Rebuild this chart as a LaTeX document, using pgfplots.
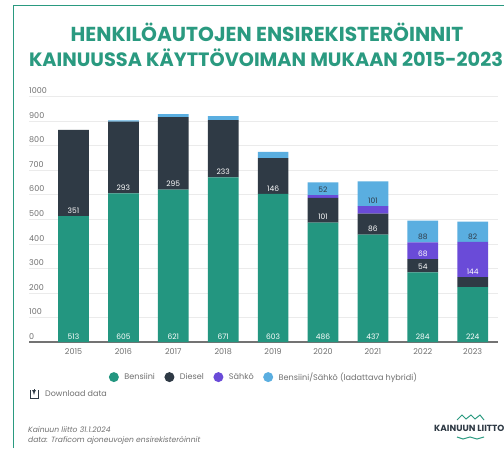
\documentclass[border=0pt]{standalone}
\usepackage{fontspec}
\setmainfont{Poppins}
\usepackage{pgfplots}
\usepackage{pgfplotstable}
\pgfplotsset{compat=1.18}
\definecolor{cgreen}{HTML}{239680}
\definecolor{cdark}{HTML}{2F3A45}
\definecolor{cpurple}{HTML}{6A4BD8}
\definecolor{cblue}{HTML}{5AAEE0}
\definecolor{ctitle}{HTML}{2A9A80}
\definecolor{cgrey}{HTML}{707070}
\pgfplotstableread{
x base lab
0 0 513
1 0 605
2 0 621
3 0 671
4 0 603
5 0 486
6 0 437
7 0 284
8 0 224
0 513 351
1 605 293
2 621 295
3 671 233
4 603 146
5 486 101
6 437 86
7 284 54
7 338 68
8 264 144
}\whitelabels
\pgfplotstableread{
x base lab
5 598 52
6 553 101
7 406 88
8 408 82
}\darklabels
\begin{document}
\begin{tikzpicture}[x=1pt,y=1pt]
\clip (0,0) rectangle (504,448);
\fill[white] (0,0) rectangle (504,448);
\draw[ctitle,line width=1pt] (13.5,0) -- (13.5,442) -- (504,442);
\node[font=\bfseries\fontsize{20.2}{22}\selectfont,text=ctitle] at (267,416) {HENKILÖAUTOJEN ENSIREKISTERÖINNIT};
\node[font=\bfseries\fontsize{19.3}{21}\selectfont,text=ctitle] at (266,390.5) {KAINUUSSA KÄYTTÖVOIMAN MUKAAN 2015-2023};
\begin{axis}[
  at={(29pt,106pt)},anchor=south west,
  width=469pt,height=245.5pt,scale only axis,
  ybar stacked,bar width=30.7pt,
  xmin=-0.892,xmax=8.507,ymin=0,ymax=1000,
  xtick={0,...,8},
  xticklabels={2015,2016,2017,2018,2019,2020,2021,2022,2023},
  ytick={0,100,...,1000},
  /pgf/number format/assume math mode=true,
  /pgf/number format/set thousands separator={},
  ymajorgrids,grid style={color=black!8,line width=0.6pt},
  axis line style={draw=none},
  major tick length=0pt,
  tick label style={font=\fontsize{8}{9}\selectfont,text=cgrey},
  y tick label style={anchor=south west,inner sep=0pt,xshift=0pt,yshift=2.5pt},
  x tick label style={yshift=-3pt},
  legend style={at={(0.501,-0.143)},anchor=center,draw=none,fill=none,font=\fontsize{8.1}{10}\selectfont,text=cgrey,legend columns=-1,
    /tikz/every even column/.append style={column sep=7.5pt}},
  legend image code/.code={\fill[#1] (0pt,0pt) circle (5pt);\path (8.5pt,0pt);},
]
\addplot[fill=cgreen,draw=none] coordinates {(0,513)(1,605)(2,621)(3,671)(4,603)(5,486)(6,437)(7,284)(8,224)};
\addplot[fill=cdark,draw=none] coordinates {(0,351)(1,293)(2,295)(3,233)(4,146)(5,101)(6,86)(7,54)(8,40)};
\addplot[fill=cpurple,draw=none] coordinates {(0,0)(1,0)(2,0)(3,0)(4,0)(5,11)(6,30)(7,68)(8,144)};
\addplot[fill=cblue,draw=none] coordinates {(0,0)(1,5)(2,12)(3,16)(4,25)(5,52)(6,101)(7,88)(8,82)};
\legend{Bensiini,Diesel,Sähkö,Bensiini/Sähkö (ladattava hybridi)}
\draw[color=black!55,line width=1.2pt] (axis cs:-0.892,0) -- (axis cs:8.507,0);
\end{axis}
\begin{axis}[
  at={(29pt,106pt)},anchor=south west,
  width=469pt,height=245.5pt,scale only axis,
  xmin=-0.892,xmax=8.507,ymin=0,ymax=1000,
  hide axis,clip=false,
  nodes near coords,
  point meta=explicit symbolic,
  every node near coord/.append style={font=\fontsize{7.5}{8}\selectfont,anchor=center,inner sep=0pt,yshift=5.5pt},
]
\addplot[only marks,mark=none,draw=none,nodes near coords style={text=white}] table[x=x,y=base,meta=lab] {\whitelabels};
\addplot[only marks,mark=none,draw=none,nodes near coords style={text=cdark}] table[x=x,y=base,meta=lab] {\darklabels};
\end{axis}
% download icon
\draw[cdark,line width=0.7pt] (30,58) -- (30,50) -- (38,50) -- (38,58);
\draw[cdark,line width=0.7pt,-{latex}] (34,59) -- (34,53);
\node[anchor=west,font=\fontsize{8}{9}\selectfont,text=cgrey,inner sep=0pt] at (45,54) {Download data};
\node[anchor=west,font=\itshape\fontsize{7.6}{9}\selectfont,text=cgrey,inner sep=0pt] at (28,18.5) {Kainuun liitto 31.1.2024};
\node[anchor=west,font=\itshape\fontsize{7.6}{9}\selectfont,text=cgrey,inner sep=0pt] at (28,7.5) {data: Traficom ajoneuvojen ensirekisteröinnit};
\draw[ctitle,line width=1pt] (457,28) -- (462,33) -- (466,29) -- (471,33) -- (475,29) -- (480,33) -- (484,28);
\node[anchor=west,font=\bfseries\fontsize{8.9}{10}\selectfont,text=cdark,inner sep=0pt] at (434,19.5) {KAINUUN LIITTO};
\draw[ctitle,line width=1pt] (457,11) -- (463,9) -- (470,11) -- (477,9) -- (484,11);
\end{tikzpicture}
\end{document}
